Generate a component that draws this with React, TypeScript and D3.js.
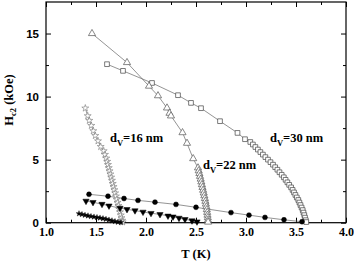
import React, { useEffect, useRef } from 'react';
import * as d3 from 'd3';

// [T (K), Hc2 (kOe)]
const dv22 = [
  [1.46, 15.0], [1.81, 12.7], [2.03, 10.83], [2.12, 10.07], [2.21, 9.1], [2.235, 8.68], [2.25, 8.47],
  [2.365, 7.14], [2.41, 6.3], [2.472, 5.08],
  [2.52, 4.35], [2.527, 4.12], [2.534, 3.9], [2.54, 3.68], [2.547, 3.46], [2.553, 3.24], [2.559, 3.02],
  [2.565, 2.8], [2.571, 2.58], [2.577, 2.36], [2.583, 2.14], [2.589, 1.92], [2.594, 1.7], [2.599, 1.48],
  [2.604, 1.26], [2.608, 1.04], [2.612, 0.82], [2.615, 0.6], [2.618, 0.4], [2.62, 0.2], [2.621, 0.05],
];

const dv30 = [
  [1.61, 12.57], [1.77, 12.04], [2.06, 11.08], [2.32, 10.11], [2.45, 9.5], [2.55, 9.08], [2.74, 8.05],
  [2.915, 7.12], [2.99, 6.62], [3.043, 6.4], [3.069, 6.2], [3.094, 6.0], [3.119, 5.8], [3.144, 5.6],
  [3.169, 5.4], [3.194, 5.2], [3.22, 5.0], [3.245, 4.8], [3.27, 4.6], [3.292, 4.4], [3.314, 4.2],
  [3.335, 4.0], [3.357, 3.8], [3.378, 3.6], [3.396, 3.4], [3.414, 3.2], [3.432, 3.0], [3.451, 2.8],
  [3.466, 2.6], [3.48, 2.4], [3.494, 2.2], [3.508, 2.0], [3.523, 1.8], [3.534, 1.6], [3.545, 1.4],
  [3.556, 1.2], [3.567, 1.0], [3.575, 0.8], [3.583, 0.6], [3.59, 0.4], [3.598, 0.2], [3.603, 0.05],
];

const dv16 = [
  [1.393, 9.08], [1.417, 8.47], [1.433, 8.1], [1.453, 7.7], [1.473, 7.28], [1.493, 6.9], [1.52, 6.48],
  [1.547, 6.03], [1.577, 5.69], [1.59, 5.4], [1.603, 5.11], [1.612, 4.85], [1.62, 4.6], [1.628, 4.35],
  [1.636, 4.1], [1.644, 3.85], [1.652, 3.6], [1.66, 3.35], [1.668, 3.1], [1.676, 2.85], [1.684, 2.6],
  [1.692, 2.35], [1.7, 2.1], [1.708, 1.85], [1.716, 1.6], [1.724, 1.35], [1.732, 1.1], [1.74, 0.85],
  [1.748, 0.6], [1.755, 0.38], [1.762, 0.18], [1.767, 0.05],
];

const circles = [
  [1.43, 2.25], [1.62, 2.1], [1.78, 1.92], [1.92, 1.77], [2.09, 1.63], [2.3, 1.45], [2.5, 1.22],
  [2.85, 0.8], [3.03, 0.6], [3.19, 0.42], [3.38, 0.23], [3.56, 0.08],
];

const downTris = [
  [1.4, 1.72], [1.47, 1.62], [1.56, 1.47], [1.63, 1.34], [1.74, 1.16], [1.81, 1.06], [1.89, 0.96],
  [1.97, 0.85], [2.05, 0.75], [2.14, 0.66], [2.22, 0.54], [2.27, 0.47], [2.33, 0.37], [2.39, 0.27],
  [2.46, 0.16], [2.51, 0.08],
];

const filledStars = [
  [1.33, 0.72], [1.36, 0.66], [1.39, 0.6], [1.42, 0.55], [1.45, 0.5], [1.48, 0.46], [1.51, 0.42],
  [1.54, 0.38], [1.57, 0.33], [1.6, 0.28], [1.63, 0.22], [1.66, 0.16], [1.69, 0.1], [1.72, 0.05],
  [1.75, 0.02],
];

const xMajor = [1.0, 1.5, 2.0, 2.5, 3.0, 3.5, 4.0];
const xMinor = [1.25, 1.75, 2.25, 2.75, 3.25, 3.75];
const yMajor = [0, 5, 10, 15];
const yMinor = [2.5, 7.5, 12.5];

const labels = [
  { t: 1.64, h: 6.4, num: '16' },
  { t: 2.57, h: 4.26, num: '22' },
  { t: 3.24, h: 6.4, num: '30' },
];

const W = 354;
const H = 262;
const serif = "'Liberation Serif', 'Times New Roman', serif";
const sans = "'Liberation Sans', Arial, sans-serif";

export default function App() {
  const ref = useRef<SVGSVGElement>(null);

  useEffect(() => {
    const margin = { top: 2, right: 8, bottom: 39.3, left: 46 };
    const svg = d3.select(ref.current);
    svg.selectAll('*').remove();

    const x = d3.scaleLinear().domain([1, 4]).range([margin.left, W - margin.right]);
    const y = d3.scaleLinear().domain([0, 17.5]).range([H - margin.bottom, margin.top]);
    const x0 = margin.left, x1 = W - margin.right, y0 = H - margin.bottom, y1 = margin.top;

    // ticks (inward on all four sides)
    const tick = (axis: any, tr: string, vals: number[], size: number, label: boolean) => {
      const g = svg.append('g').attr('transform', tr).call(axis.tickValues(vals).tickSize(-size).tickFormat(label ? undefined : () => ''));
      g.select('.domain').remove();
      g.selectAll('line').attr('stroke', '#000').attr('stroke-width', 1);
      return g;
    };
    const bx = tick(d3.axisBottom(x).tickPadding(5).tickFormat(d3.format('.1f')), `translate(0,${y0})`, xMajor, 5, true);
    bx.selectAll('text').attr('font-family', serif).attr('font-weight', 'bold').attr('font-size', 12).attr('fill', '#000');
    tick(d3.axisBottom(x), `translate(0,${y0})`, xMinor, 3, false);
    tick(d3.axisTop(x), `translate(0,${y1})`, xMajor, 5, false);
    tick(d3.axisTop(x), `translate(0,${y1})`, xMinor, 3, false);
    const ly = tick(d3.axisLeft(y).tickPadding(7).tickFormat(d3.format('d')), `translate(${x0},0)`, yMajor, 5, true);
    ly.selectAll('text').attr('font-family', sans).attr('font-weight', 'bold').attr('font-size', 11.5).attr('fill', '#000');
    tick(d3.axisLeft(y), `translate(${x0},0)`, yMinor, 3, false);
    tick(d3.axisRight(y), `translate(${x1},0)`, yMajor, 5, false);
    tick(d3.axisRight(y), `translate(${x1},0)`, yMinor, 3, false);

    svg.append('rect')
      .attr('x', x0).attr('y', y1).attr('width', x1 - x0).attr('height', y0 - y1)
      .attr('fill', 'none').attr('stroke', '#000').attr('stroke-width', 1.2);

    const line = d3.line<number[]>().x((d) => x(d[0])).y((d) => y(d[1]));

    const series = [
      { data: dv30, type: d3.symbolSquare, size: 22, fill: '#fff', stroke: '#444', sw: 0.7, rot: 0 },
      { data: dv22, type: d3.symbolTriangle, size: 22, fill: '#fff', stroke: '#555', sw: 0.7, rot: 0 },
      { data: dv16, type: d3.symbolStar, size: 15, fill: '#fff', stroke: '#777', sw: 0.6, rot: 0 },
      { data: circles, type: d3.symbolCircle, size: 19, fill: '#000', stroke: '#000', sw: 0.5, rot: 0 },
      { data: downTris, type: d3.symbolTriangle, size: 17, fill: '#000', stroke: '#000', sw: 0.5, rot: 180 },
      { data: filledStars, type: d3.symbolStar, size: 10, fill: '#000', stroke: '#000', sw: 0.4, rot: 0 },
    ];

    series.forEach((s) => {
      svg.append('path')
        .datum(s.data)
        .attr('fill', 'none')
        .attr('stroke', '#666')
        .attr('stroke-width', 0.7)
        .attr('d', line);
    });

    series.forEach((s) => {
      svg.append('g')
        .selectAll('path')
        .data(s.data)
        .enter()
        .append('path')
        .attr('d', d3.symbol().type(s.type).size(s.size))
        .attr('transform', (d) => `translate(${x(d[0])},${y(d[1])}) rotate(${s.rot})`)
        .attr('fill', s.fill)
        .attr('stroke', s.stroke)
        .attr('stroke-width', s.sw);
    });

    // thickness labels
    labels.forEach((l) => {
      const t = svg.append('text')
        .attr('x', x(l.t)).attr('y', y(l.h))
        .attr('font-family', serif).attr('font-weight', 'bold').attr('font-size', 12.5).attr('fill', '#000');
      t.append('tspan').text('d');
      t.append('tspan').attr('dy', 4).attr('font-size', 8.5).text('V');
      t.append('tspan').attr('dy', -4).text(`=${l.num} nm`);
    });

    // axis titles
    svg.append('text')
      .attr('x', (x0 + x1) / 2).attr('y', 258)
      .attr('text-anchor', 'middle')
      .attr('font-family', serif).attr('font-weight', 'bold').attr('font-size', 12.5)
      .text('T (K)');

    const yt = svg.append('text')
      .attr('transform', `translate(13,${100}) rotate(-90)`)
      .attr('text-anchor', 'middle')
      .attr('font-family', serif).attr('font-weight', 'bold').attr('font-size', 12.5);
    yt.append('tspan').text('H');
    yt.append('tspan').attr('dy', 3).attr('font-size', 8.5).text('c2');
    yt.append('tspan').attr('dy', -3).text(' (kOe)');
  }, []);

  return (
    <svg ref={ref} width={W} height={H} style={{ position: 'absolute', left: 0, top: 0, background: '#fff' }} />
  );
}
